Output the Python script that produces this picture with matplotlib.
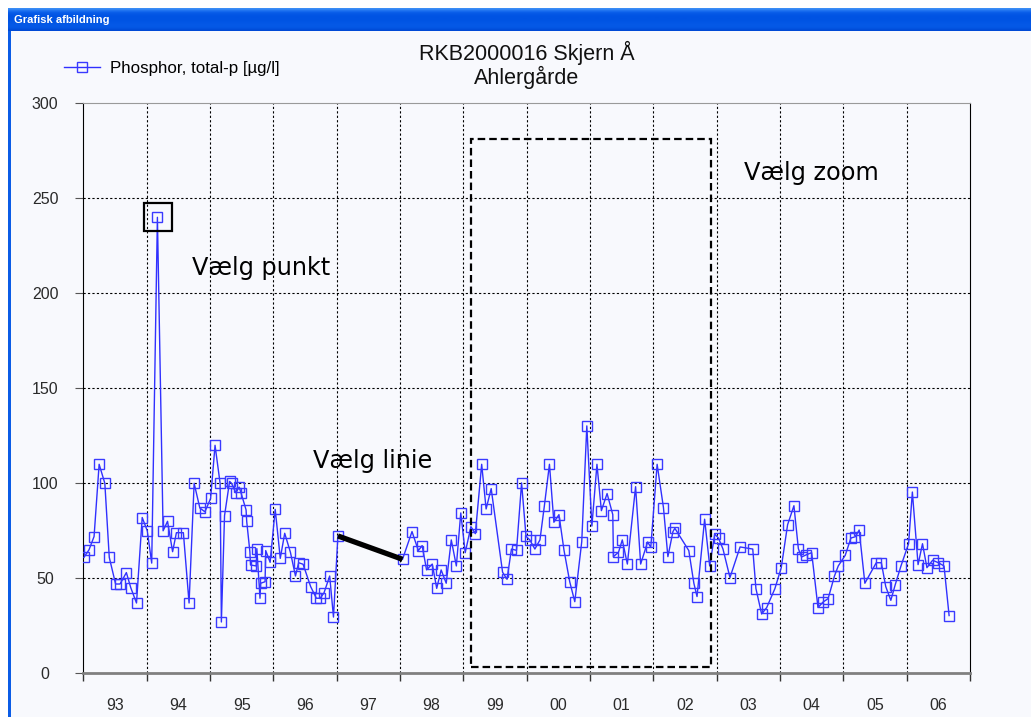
import matplotlib
matplotlib.use('Agg')
import matplotlib.pyplot as plt
import numpy as np
from matplotlib.patches import Rectangle

# measurement dates (decimal year) and total phosphorus [ug/l]
years = [
    1993.01, 1993.09, 1993.17, 1993.25, 1993.34, 1993.41, 1993.51, 1993.58,
    1993.68, 1993.75, 1993.84, 1993.93, 1994.01, 1994.08, 1994.17, 1994.26,
    1994.33, 1994.41, 1994.47, 1994.58, 1994.67, 1994.75, 1994.84, 1994.92,
    1995.01, 1995.08, 1995.16, 1995.18, 1995.23, 1995.31, 1995.34, 1995.41,
    1995.46, 1995.49, 1995.57, 1995.58, 1995.63, 1995.64, 1995.73, 1995.74,
    1995.79, 1995.80, 1995.87, 1995.88, 1995.95, 1996.03, 1996.11, 1996.18,
    1996.27, 1996.35, 1996.40, 1996.47, 1996.59, 1996.68, 1996.74, 1996.80,
    1996.89, 1996.95, 1997.02,
    1998.04, 1998.19, 1998.29, 1998.35, 1998.42, 1998.51, 1998.58, 1998.65,
    1998.73, 1998.81, 1998.89, 1998.96, 1999.03, 1999.12, 1999.19, 1999.29,
    1999.36, 1999.44, 1999.62, 1999.69, 1999.76, 1999.84, 1999.92, 1999.99,
    2000.05, 2000.13, 2000.21, 2000.28, 2000.36, 2000.43, 2000.51, 2000.59,
    2000.68, 2000.76, 2000.87, 2000.95, 2001.03, 2001.11, 2001.18, 2001.27,
    2001.36, 2001.37, 2001.45, 2001.51, 2001.59, 2001.72, 2001.80, 2001.91,
    2001.96, 2002.06, 2002.16, 2002.23, 2002.31, 2002.34, 2002.56, 2002.64,
    2002.69, 2002.81, 2002.89, 2002.97, 2003.03, 2003.10, 2003.21, 2003.37,
    2003.57, 2003.62, 2003.71, 2003.79, 2003.92, 2004.02, 2004.12, 2004.22,
    2004.29, 2004.34, 2004.41, 2004.50, 2004.60, 2004.68, 2004.76, 2004.86,
    2004.92, 2005.03, 2005.12, 2005.19, 2005.25, 2005.34, 2005.52, 2005.60,
    2005.67, 2005.75, 2005.82, 2005.91, 2006.03, 2006.09, 2006.18, 2006.25,
    2006.32, 2006.41, 2006.50, 2006.59, 2006.67,
]
phosphor = [
    61, 65, 72, 110, 100, 61, 47, 47,
    53, 45, 37, 82, 75, 58, 240, 75,
    80, 64, 74, 74, 37, 100, 87, 85,
    92, 120, 100, 27, 83, 101, 100, 95,
    98, 95, 86, 80, 64, 57, 56.5, 65.6,
    39.5, 47.4, 48.2, 64.6, 58.4, 86.3, 60.5, 73.7,
    63.7, 51.2, 58.2, 57.4, 45.6, 39.5, 39.5, 42.3,
    51.2, 29.6, 72.3,
    60.0, 74.6, 64.6, 67.2, 54.4, 57.5, 44.7, 54.4,
    47.4, 70.2, 56.5, 84.4, 63.5, 77.2, 73.5, 110,
    86.5, 97.2, 53.2, 49.5, 65.4, 64.7, 100.2, 72.1,
    70.2, 65.4, 70.2, 88.2, 110, 79.5, 83.5, 64.7,
    48.2, 37.7, 69.3, 130.2, 77.5, 110, 85.6, 94.6,
    83.5, 61.4, 63.7, 70.2, 57.5, 98.2, 57.5, 69.1,
    66.3, 110, 87.2, 61.4, 74.6, 76.3, 64.6, 47.4,
    40.4, 81.1, 56.5, 73.3, 71.1, 65.4, 50.4, 66.5,
    65.4, 44.6, 31.2, 34.6, 44.6, 55.6, 78.2, 88.2,
    65.6, 61.2, 62.3, 63.5, 34.6, 37.5, 39.3, 51.2,
    56.5, 62.1, 71.2, 71.9, 75.4, 47.4, 58.2, 58.2,
    45.6, 38.4, 46.7, 56.5, 68.2, 95.4, 57.2, 68.2,
    55.6, 59.5, 58.2, 56.5, 30.4,
]
year_labels = ['93', '94', '95', '96', '97', '98', '99', '00', '01', '02',
               '03', '04', '05', '06']
y_ticks = [0, 50, 100, 150, 200, 250, 300]

bg = '#f8f9fd'
W, H = 1031, 717

fig = plt.figure(figsize=(W / 100, H / 100), dpi=100, facecolor='white')

# window frame
fig.patches.append(Rectangle((8 / W, 0), 1 - 8 / W, 1 - 8 / H,
                             transform=fig.transFigure, facecolor=bg,
                             edgecolor='none', zorder=-10))
fig.patches.append(Rectangle((8 / W, 0), 3 / W, 1 - 8 / H,
                             transform=fig.transFigure, facecolor='#0b5ce6',
                             edgecolor='none', zorder=-9))
bar = fig.add_axes([8 / W, 1 - 31 / H, 1 - 8 / W, 23 / H])
bar_rows = np.array([
    [0x3a, 0x8c, 0xf5], [0x1a, 0x6e, 0xf0], [0x08, 0x5c, 0xe8],
    [0x03, 0x56, 0xe5], [0x00, 0x53, 0xe3], [0x00, 0x53, 0xe3],
    [0x00, 0x54, 0xe3], [0x02, 0x56, 0xe5], [0x04, 0x58, 0xe6],
    [0x05, 0x59, 0xe6], [0x03, 0x55, 0xe2], [0x00, 0x4a, 0xd6],
]) / 255.0
bar.imshow(bar_rows[:, None, :], aspect='auto', extent=(0, 1, 0, 1),
           interpolation='bilinear')
bar.set_axis_off()
fig.text(14 / W, 1 - 20 / H, 'Grafisk afbildning', color='white',
         fontsize=8, fontweight='bold', family='Liberation Sans', va='center',
         zorder=5)

# title
fig.text(527 / W, 1 - 53 / H, 'RKB2000016 Skjern Å', fontsize=15.5,
         family='Liberation Sans', ha='center', va='center', color='#111111')
fig.text(527 / W, 1 - 77 / H, 'Ahlergårde', fontsize=15.5,
         family='Liberation Sans', ha='center', va='center', color='#111111')

ax = fig.add_axes([83.3 / W, 1 - 673.3 / H, (970 - 83.3) / W, 570 / H])
ax.set_facecolor(bg)
ax.set_xlim(1993, 2007)
ax.set_ylim(0, 300)

for yr in range(1994, 2007):
    ax.axvline(yr, color='black', lw=0.8, ls=(0, (2, 2)), zorder=1)
for v in y_ticks[1:-1]:
    ax.axhline(v, color='black', lw=0.8, ls=(0, (2, 2)), zorder=1)

line, = ax.plot(years, phosphor, color='#3030ff', lw=1.0, marker='s',
                markersize=6.8, markerfacecolor='none',
                markeredgecolor='#3a3aff', markeredgewidth=1.0,
                label='Phosphor, total-p [µg/l]', zorder=3)

# annotations
ax.plot(years[58:60], phosphor[58:60], color='black', lw=3.8,
        solid_capstyle='butt', zorder=4)
ax.add_patch(Rectangle((1993.96, 232.8), 0.44, 14.6, fill=False,
                       edgecolor='black', lw=1.6, zorder=4))
ax.add_patch(Rectangle((1999.12, 3.3), 3.79, 277.9, fill=False,
                       edgecolor='black', lw=1.6, ls=(0, (3.4, 1.8)), zorder=4))
ax.text(1994.72, 213.3, 'Vælg punkt', fontsize=17.3, family='DejaVu Sans',
        va='center', zorder=5)
ax.text(1996.62, 111.7, 'Vælg linie', fontsize=17.3, family='DejaVu Sans',
        va='center', zorder=5)
ax.text(2003.43, 263.3, 'Vælg zoom', fontsize=17.3, family='DejaVu Sans',
        va='center', zorder=5)

# spines
ax.spines['left'].set_color('black')
ax.spines['right'].set_color('black')
ax.spines['top'].set_color('#9a9a9a')
ax.spines['bottom'].set_color('#808080')
ax.spines['bottom'].set_linewidth(2)

ax.set_xticks(range(1993, 2008))
ax.set_xticklabels([])
ax.set_xticks(np.arange(1993.5, 2007, 1), minor=True)
ax.set_xticklabels(year_labels, minor=True)
ax.tick_params(axis='x', which='major', direction='out', length=6,
               color='#333333', width=1)
ax.tick_params(axis='x', which='minor', length=0, pad=18, labelsize=11.5,
               labelcolor='#2a2a2a')
ax.set_yticks(y_ticks)
ax.set_yticklabels([str(v) for v in y_ticks], ha='center')
ax.tick_params(axis='y', direction='out', length=6, color='#555555',
               pad=21.5, labelsize=11.5, labelcolor='#2a2a2a')
for lab in ax.get_xticklabels(minor=True) + ax.get_yticklabels():
    lab.set_family('Liberation Sans')

leg = ax.legend(handles=[line], loc='center left',
                bbox_to_anchor=(64 / W, 1 - 68 / H),
                bbox_transform=fig.transFigure, frameon=False,
                prop={'family': 'Liberation Sans', 'size': 12.2},
                handlelength=2.1, handletextpad=0.6, borderpad=0,
                borderaxespad=0)

fig.savefig('out.png', dpi=100, facecolor='white')
